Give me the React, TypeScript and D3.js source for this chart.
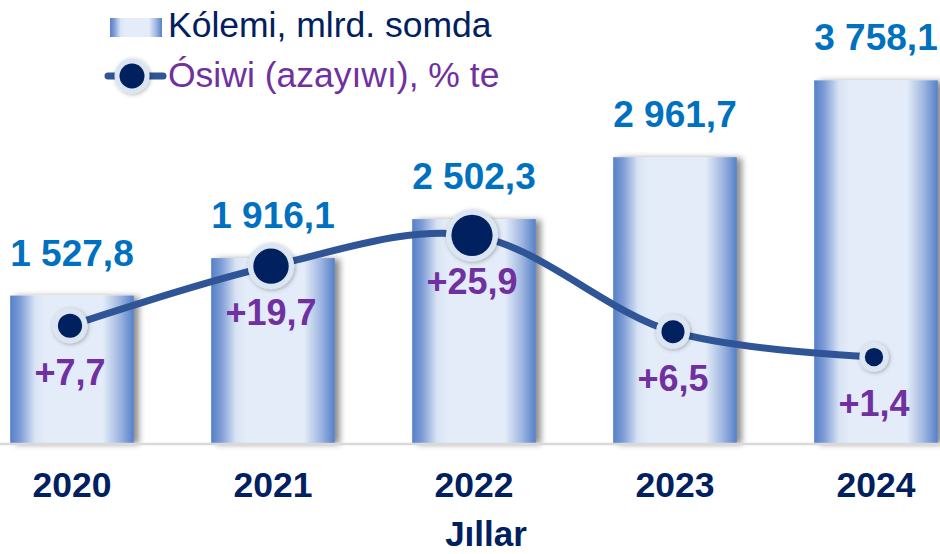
import React from "react";
import * as d3 from "d3";

const years = ["2020", "2021", "2022", "2023", "2024"];
const volumeLabels = ["1 527,8", "1 916,1", "2 502,3", "2 961,7", "3 758,1"];
// bar heights (2022 bar is drawn shorter than its label)
const barVolumes = [1527.8, 1916.1, 2320, 2961.7, 3758.1];
const growth = [7.7, 19.7, 25.9, 6.5, 1.4];
const growthLabels = ["+7,7", "+19,7", "+25,9", "+6,5", "+1,4"];
const legendBar = "Kólemi, mlrd. somda";
const legendLine = "Ósiwi (azayıwı), % te";
const axisTitle = "Jıllar";

const W = 940;
const H = 554;
const FONT = "'Liberation Sans', Arial, Helvetica, sans-serif";

export default function App() {
  const x = d3.scaleBand().domain(years).range([-30, 978]).paddingInner(0.385).paddingOuter(0.2);
  const yBar = d3.scaleLinear().domain([0, 4000]).range([443, 57]);
  const yLine = d3.scaleLinear().domain([0, 30]).range([364, 215]);
  const rScale = d3.scaleLinear().domain([0, 30]).range([14, 28]);
  const bw = x.bandwidth();
  const cx = (y: string) => (x(y) as number) + bw / 2;

  const pts: [number, number][] = years.map((yr, i) => [cx(yr) - 2, yLine(growth[i])]);
  const linePath = d3.line().curve(d3.curveCatmullRom.alpha(0.5))(pts) || "";

  return (
    <svg width={W} height={H} style={{ position: "absolute", left: 0, top: 0, display: "block" }} fontFamily={FONT}>
      <defs>
        <linearGradient id="barGrad" x1="0" x2="1" y1="0" y2="0">
          <stop offset="0%" stopColor="#5580C8" />
          <stop offset="8%" stopColor="#7D9CD6" />
          <stop offset="20%" stopColor="#D8E3F4" />
          <stop offset="28%" stopColor="#E3ECF8" />
          <stop offset="75%" stopColor="#E3ECF8" />
          <stop offset="88%" stopColor="#A3B9E2" />
          <stop offset="100%" stopColor="#5580C8" />
        </linearGradient>
        <filter id="barShadow" x="-10%" y="-10%" width="130%" height="120%">
          <feDropShadow dx="5" dy="1" stdDeviation="3" floodColor="#000" floodOpacity="0.45" />
        </filter>
        <filter id="dotShadow" x="-50%" y="-50%" width="200%" height="200%">
          <feDropShadow dx="1" dy="1" stdDeviation="2" floodColor="#000" floodOpacity="0.3" />
        </filter>
      </defs>
      <rect width={W} height={H} fill="#fff" />

      {/* bars */}
      {years.map((yr, i) => (
        <rect
          key={yr}
          x={x(yr)}
          y={yBar(barVolumes[i])}
          width={bw}
          height={yBar(0) - yBar(barVolumes[i])}
          fill="url(#barGrad)"
          filter="url(#barShadow)"
        />
      ))}
      <line x1={0} x2={W} y1={444} y2={444} stroke="#D9D9D9" strokeWidth={2.5} />

      {/* value labels */}
      {years.map((yr, i) => (
        <text
          key={"v" + yr}
          x={cx(yr)}
          y={yBar(barVolumes[i]) - 30}
          textAnchor="middle"
          fontSize={37}
          fontWeight="bold"
          fill="#0070C0"
        >
          {volumeLabels[i]}
        </text>
      ))}

      {/* growth line */}
      <path d={linePath} fill="none" stroke="#2F5597" strokeWidth={7} strokeLinecap="round" />
      {years.map((yr, i) => {
        const r = rScale(growth[i]);
        return (
          <g key={"m" + yr}>
            <circle cx={pts[i][0]} cy={pts[i][1]} r={r} fill="#DCE6F2" filter="url(#dotShadow)" />
            <circle cx={pts[i][0]} cy={pts[i][1]} r={r - 5.5} fill="#002060" />
          </g>
        );
      })}
      {years.map((yr, i) => (
        <text
          key={"g" + yr}
          x={pts[i][0]}
          y={pts[i][1] + 59}
          textAnchor="middle"
          fontSize={36}
          fontWeight="bold"
          fill="#7030A0"
        >
          {growthLabels[i]}
        </text>
      ))}

      {/* x axis labels */}
      {years.map((yr) => (
        <text key={"x" + yr} x={cx(yr)} y={497} textAnchor="middle" fontSize={35.5} fontWeight="bold" fill="#002060">
          {yr}
        </text>
      ))}
      <text x={486} y={546} textAnchor="middle" fontSize={35} fontWeight="bold" fill="#002060">
        {axisTitle}
      </text>

      {/* legend */}
      <rect x={110} y={18} width={52} height={19} fill="url(#barGrad)" />
      <text x={168} y={37} fontSize={35.5} fill="#002060">
        {legendBar}
      </text>
      <line x1={108} x2={163} y1={76} y2={76} stroke="#2F5597" strokeWidth={7} strokeLinecap="round" />
      <circle cx={132} cy={76} r={17.5} fill="#DCE6F2" filter="url(#dotShadow)" />
      <circle cx={132} cy={76} r={12.5} fill="#002060" />
      <text x={168} y={87} fontSize={35.5} fill="#7030A0">
        {legendLine}
      </text>
    </svg>
  );
}
